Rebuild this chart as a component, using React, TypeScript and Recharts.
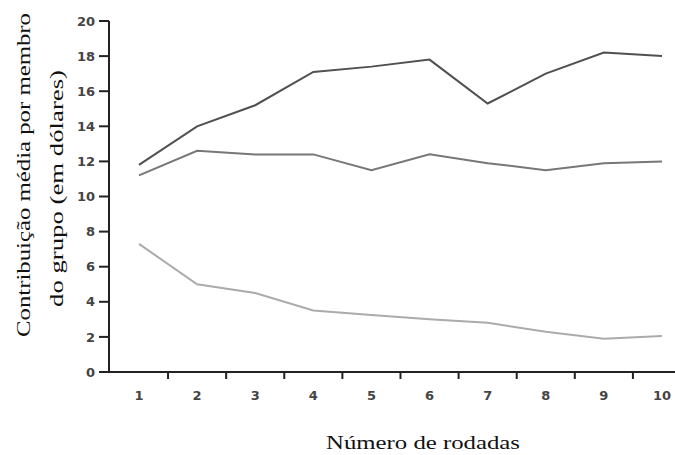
import React from "react";
import { LineChart, Line, XAxis, YAxis } from "recharts";

const rounds = [1, 2, 3, 4, 5, 6, 7, 8, 9, 10];
const highGroup = [11.8, 14.0, 15.2, 17.1, 17.4, 17.8, 15.3, 17.0, 18.2, 18.0];
const midGroup = [11.2, 12.6, 12.4, 12.4, 11.5, 12.4, 11.9, 11.5, 11.9, 12.0];
const lowGroup = [7.3, 5.0, 4.5, 3.5, 3.25, 3.0, 2.8, 2.3, 1.9, 2.05];
const yTicks = [0, 2, 4, 6, 8, 10, 12, 14, 16, 18, 20];
const xMarkTicks = [1.5, 2.5, 3.5, 4.5, 5.5, 6.5, 7.5, 8.5, 9.5];
const xTitle = "Número de rodadas";
const yTitle1 = "Contribuição média por membro";
const yTitle2 = "do grupo (em dólares)";

const data = rounds.map((r, i) => ({
  round: r,
  high: highGroup[i],
  mid: midGroup[i],
  low: lowGroup[i],
}));

const xAllTicks = [...rounds, ...xMarkTicks].sort((a, b) => a - b);

const X_DOMAIN: [number, number] = [0.484, 10.224];
const tickFont = { fontFamily: "DejaVu Sans", fontSize: 13, fontWeight: "bold", fill: "#444" };

function XTick(props: any) {
  const { x, y, payload } = props;
  const v = payload.value as number;
  if (Number.isInteger(v)) {
    return (
      <text
        x={x}
        y={y + 19}
        dy="0.71em"
        textAnchor="middle"
        fontFamily="DejaVu Sans"
        fontSize={13}
        fontWeight="bold"
        fill="#444"
      >
        {v}
      </text>
    );
  }
  return <line x1={x} x2={x} y1={y} y2={y + 7} stroke="#222" strokeWidth={2} />;
}

export default function App() {
  return (
    <div style={{ position: "absolute", left: 0, top: 0, width: 675, height: 455, background: "#fff" }}>
      <LineChart
        width={675}
        height={455}
        data={data}
        margin={{ top: 21, right: 0, left: 0, bottom: 0 }}
      >
        <XAxis
          type="number"
          dataKey="round"
          domain={X_DOMAIN}
          allowDataOverflow
          ticks={xAllTicks}
          interval={0}
          tickLine={false}
          tickSize={0}
          tickMargin={0}
          tick={<XTick />}
          axisLine={{ stroke: "#222", strokeWidth: 2 }}
          height={83}
        />
        <YAxis
          type="number"
          domain={[0, 20]}
          ticks={yTicks}
          interval={0}
          width={109}
          tickSize={10}
          tickMargin={4}
          tick={tickFont}
          tickLine={{ stroke: "#222", strokeWidth: 2 }}
          axisLine={{ stroke: "#222", strokeWidth: 2 }}
        />
        <Line type="linear" dataKey="high" stroke="#505050" strokeWidth={2} dot={false} isAnimationActive={false} />
        <Line type="linear" dataKey="mid" stroke="#777777" strokeWidth={2} dot={false} isAnimationActive={false} />
        <Line type="linear" dataKey="low" stroke="#ababab" strokeWidth={2} dot={false} isAnimationActive={false} />
      </LineChart>
      <svg
        width={675}
        height={455}
        style={{ position: "absolute", left: 0, top: 0, pointerEvents: "none" }}
      >
        <text
          x={326}
          y={442}
          dominantBaseline="central"
          fontFamily="'Liberation Serif', serif"
          fontSize={19}
          fill="#111"
          textLength={194}
          lengthAdjust="spacingAndGlyphs"
        >
          {xTitle}
        </text>
        <text
          transform="translate(23,337) rotate(-90)"
          dominantBaseline="central"
          fontFamily="'Liberation Serif', serif"
          fontSize={19}
          fill="#111"
          textLength={324}
          lengthAdjust="spacingAndGlyphs"
        >
          {yTitle1}
        </text>
        <text
          transform="translate(56,307) rotate(-90)"
          dominantBaseline="central"
          fontFamily="'Liberation Serif', serif"
          fontSize={19}
          fill="#111"
          textLength={237}
          lengthAdjust="spacingAndGlyphs"
        >
          {yTitle2}
        </text>
      </svg>
    </div>
  );
}
